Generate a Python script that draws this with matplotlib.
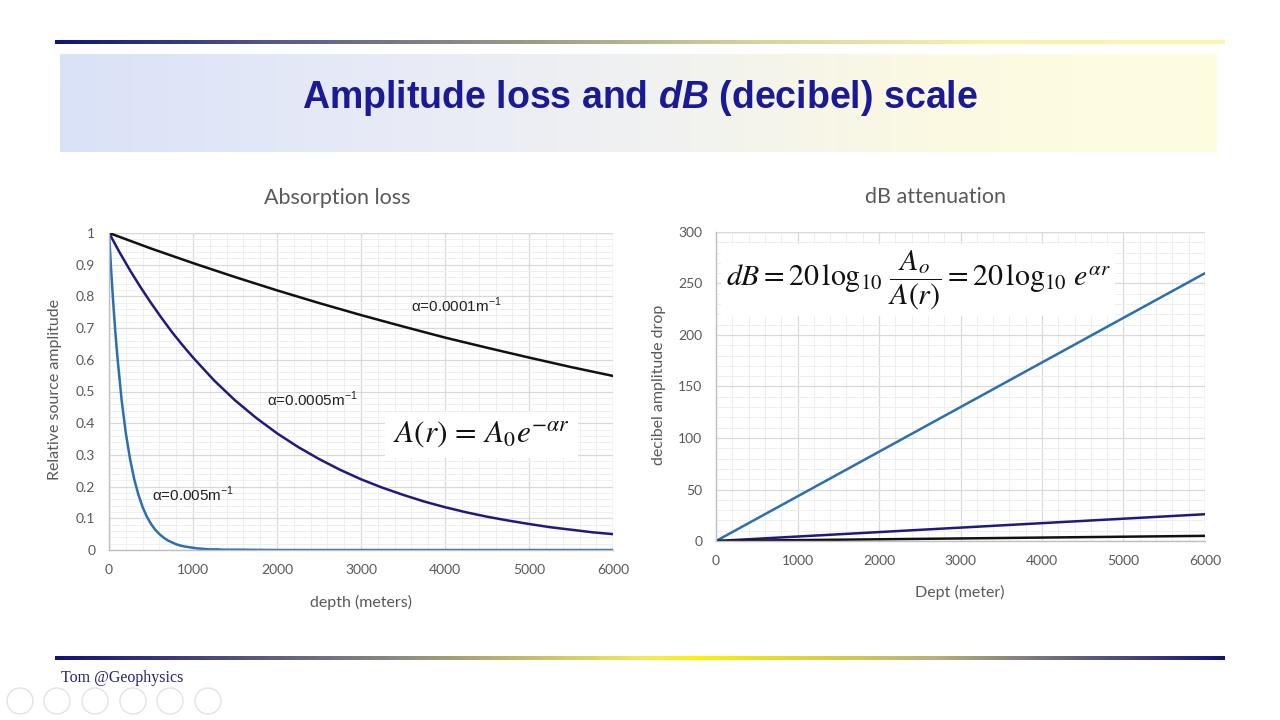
import numpy as np
import matplotlib
matplotlib.use("Agg")
import matplotlib.pyplot as plt
import matplotlib.ticker as ticker
from matplotlib.colors import LinearSegmentedColormap
from matplotlib.patches import Circle

plt.rcParams["font.family"] = ["Lato", "DejaVu Sans"]
plt.rcParams["mathtext.fontset"] = "custom"
plt.rcParams["mathtext.rm"] = "Liberation Sans:bold"
plt.rcParams["mathtext.it"] = "Liberation Sans:italic:bold"

# ── Data ──────────────────────────────────────────────────────────────────────

depth_slow = [0, 500, 1000, 1500, 2000, 2500, 3000, 3500, 4000, 4500, 5000, 5500, 6000]
amp_slow = [1.000, 0.951, 0.905, 0.861, 0.819, 0.779, 0.741, 0.705, 0.670, 0.638,
            0.607, 0.577, 0.549]

depth_mid = [0, 125, 250, 375, 500, 625, 750, 875, 1000, 1250, 1500, 1750, 2000,
             2250, 2500, 2750, 3000, 3250, 3500, 3750, 4000, 4250, 4500, 4750, 5000,
             5250, 5500, 5750, 6000]
amp_mid = [1.000, 0.939, 0.882, 0.829, 0.779, 0.732, 0.687, 0.646, 0.607, 0.535,
           0.472, 0.417, 0.368, 0.325, 0.287, 0.253, 0.223, 0.197, 0.174, 0.153,
           0.135, 0.119, 0.105, 0.093, 0.082, 0.072, 0.064, 0.056, 0.050]

depth_fast = [0, 25, 50, 75, 100, 150, 200, 250, 300, 350, 400, 450, 500, 550, 600,
              650, 700, 750, 800, 850, 900, 950, 1000, 1050, 1100, 1150, 1200, 1250,
              1300, 1350, 1400, 1450, 1500, 2000, 3000, 4000, 5000, 6000]
amp_fast = [1.000, 0.882, 0.779, 0.687, 0.607, 0.472, 0.368, 0.287, 0.223, 0.174,
            0.135, 0.105, 0.082, 0.064, 0.050, 0.039, 0.030, 0.024, 0.018, 0.014,
            0.011, 0.009, 0.007, 0.005, 0.004, 0.003, 0.002, 0.002, 0.002, 0.001,
            0.001, 0.001, 0.001, 0.000, 0.000, 0.000, 0.000, 0.000]

depth_db = [0, 6000]
db_fast = [0, 260]
db_mid = [0, 26]
db_slow = [0, 5]

labels_alpha = ["α=0.0001m$^{\\mathregular{-1}}$",
                "α=0.0005m$^{\\mathregular{-1}}$",
                "α=0.005m$^{\\mathregular{-1}}$"]

C_BLACK = "#111111"
C_NAVY = "#1e1a82"
C_BLUE = "#2a6fb0"
GRAY_TXT = "#595959"

fig = plt.figure(figsize=(12.8, 7.2), dpi=100)
fig.patch.set_facecolor("white")

# ── Slide decoration ──────────────────────────────────────────────────────────
bg = fig.add_axes([0, 0, 1, 1], zorder=-5)
bg.set_xlim(0, 1280)
bg.set_ylim(720, 0)
bg.axis("off")

grad = np.linspace(0, 1, 512).reshape(1, -1)
box_cmap = LinearSegmentedColormap.from_list(
    "box", ["#dae2f7", "#e6eaf7", "#f0f1f2", "#fbf9e2", "#fffde0"])
bg.imshow(grad, cmap=box_cmap, extent=(60, 1217, 152, 54), aspect="auto")

top_cmap = LinearSegmentedColormap.from_list(
    "top", ["#12127a", "#5a5e8a", "#9a9a86", "#d6d49a", "#f8f4a8", "#fbf6b0"])
bg.imshow(grad, cmap=top_cmap, extent=(55, 1225, 44, 40), aspect="auto")

bot_cmap = LinearSegmentedColormap.from_list(
    "bot", [(0, "#12127a"), (0.3, "#8e8e80"), (0.5, "#f3e85a"), (0.55, "#fff000"),
            (0.75, "#b8b27a"), (1.0, "#12127a")])
bg.imshow(grad, cmap=bot_cmap, extent=(55, 1225, 660, 656), aspect="auto")

bg.text(640, 98, r"Amplitude loss and $\mathit{dB}$ (decibel) scale",
        ha="center", va="center", fontsize=27, fontweight="bold",
        color="#1a1a96", family="Liberation Sans", math_fontfamily="custom")

bg.text(61, 678, "Tom @Geophysics", ha="left", va="center", fontsize=11.5,
        color="#222277", family="Liberation Serif")

for cx in [20, 57, 95, 133, 170, 208]:
    bg.add_patch(Circle((cx, 701), 13, fill=False, ec="#e3e3e3", lw=1))

# ── Axes helper ───────────────────────────────────────────────────────────────

def style_axes(ax):
    for side in ["top", "right"]:
        ax.spines[side].set_visible(False)
    for side in ["left", "bottom"]:
        ax.spines[side].set_color("#bfbfbf")
        ax.spines[side].set_linewidth(1)
    ax.grid(True, which="major", color="#d9d9d9", lw=0.9)
    ax.grid(True, which="minor", color="#efefef", lw=0.7)
    ax.set_axisbelow(True)
    ax.tick_params(which="both", length=0, colors=GRAY_TXT, labelsize=10)
    ax.tick_params(axis="x", pad=10)
    ax.tick_params(axis="y", pad=10)


# ── Left: absorption loss ─────────────────────────────────────────────────────
ax1 = fig.add_axes([0.0852, 0.2361, 0.3938, 0.4403])
style_axes(ax1)
ax1.plot(depth_fast, amp_fast, color=C_BLUE, lw=1.8)
ax1.plot(depth_mid, amp_mid, color=C_NAVY, lw=1.8)
ax1.plot(depth_slow, amp_slow, color=C_BLACK, lw=1.8)
ax1.set_xlim(0, 6000)
ax1.set_ylim(0, 1)
ax1.xaxis.set_major_locator(ticker.MultipleLocator(1000))
ax1.xaxis.set_minor_locator(ticker.MultipleLocator(200))
ax1.yaxis.set_major_locator(ticker.MultipleLocator(0.1))
ax1.yaxis.set_minor_locator(ticker.MultipleLocator(0.02))
ax1.yaxis.set_major_formatter(ticker.FormatStrFormatter("%g"))
ax1.axhline(1, color="#d9d9d9", lw=0.9, zorder=0)
ax1.axvline(6000, color="#d9d9d9", lw=0.9, zorder=0)

ax1.set_xlabel("depth (meters)", color=GRAY_TXT, fontsize=11.5)
ax1.xaxis.set_label_coords(0.5, -0.142)
ax1.set_ylabel("Relative source amplitude", color=GRAY_TXT, fontsize=11.5)
ax1.yaxis.set_label_coords(-0.093, 0.505)
ax1.text(0.452, 1.110, "Absorption loss", transform=ax1.transAxes,
         ha="center", va="center", fontsize=15.5, color=GRAY_TXT)

for (x, y), lab in zip([(3595, 0.773), (1881, 0.476), (512, 0.174)], labels_alpha):
    ax1.text(x, y, lab, fontsize=11, color="#222222", va="center",
             family="Liberation Sans", math_fontfamily="dejavusans")

ax1.text(4430, 0.363, r"$A(r)\,=\,A_0e^{-\alpha r}$", fontsize=22.5, ha="center",
         va="center", math_fontfamily="stix", color="#111111",
         bbox=dict(boxstyle="square,pad=0.25", fc="white", ec="none"))

# ── Right: dB attenuation ─────────────────────────────────────────────────────
ax2 = fig.add_axes([0.5594, 0.2486, 0.3820, 0.4292])
style_axes(ax2)
ax2.plot(depth_db, db_fast, color=C_BLUE, lw=1.8)
ax2.plot(depth_db, db_mid, color=C_NAVY, lw=1.8)
ax2.plot(depth_db, db_slow, color=C_BLACK, lw=1.8)
ax2.set_xlim(0, 6000)
ax2.set_ylim(0, 300)
ax2.xaxis.set_major_locator(ticker.MultipleLocator(1000))
ax2.xaxis.set_minor_locator(ticker.MultipleLocator(200))
ax2.yaxis.set_major_locator(ticker.MultipleLocator(50))
ax2.yaxis.set_minor_locator(ticker.MultipleLocator(10))
ax2.axhline(300, color="#d9d9d9", lw=0.9, zorder=0)
ax2.axvline(6000, color="#d9d9d9", lw=0.9, zorder=0)

ax2.set_xlabel("Dept (meter)", color=GRAY_TXT, fontsize=11.5)
ax2.xaxis.set_label_coords(0.499, -0.142)
ax2.set_ylabel("decibel amplitude drop", color=GRAY_TXT, fontsize=11.5)
ax2.yaxis.set_label_coords(-0.102, 0.505)
ax2.text(0.448, 1.113, "dB attenuation", transform=ax2.transAxes,
         ha="center", va="center", fontsize=15.5, color=GRAY_TXT)

ax2.text(2480, 253,
         r"$dB = 20\,\log_{10}\,\dfrac{A_o}{A(r)} = 20\,\log_{10}\,e^{\alpha r}$",
         fontsize=21.5, ha="center", va="center", math_fontfamily="stix",
         color="#111111",
         bbox=dict(boxstyle="square,pad=0.15", fc="white", ec="none"))

fig.savefig("out.png", dpi=100, facecolor="white")
